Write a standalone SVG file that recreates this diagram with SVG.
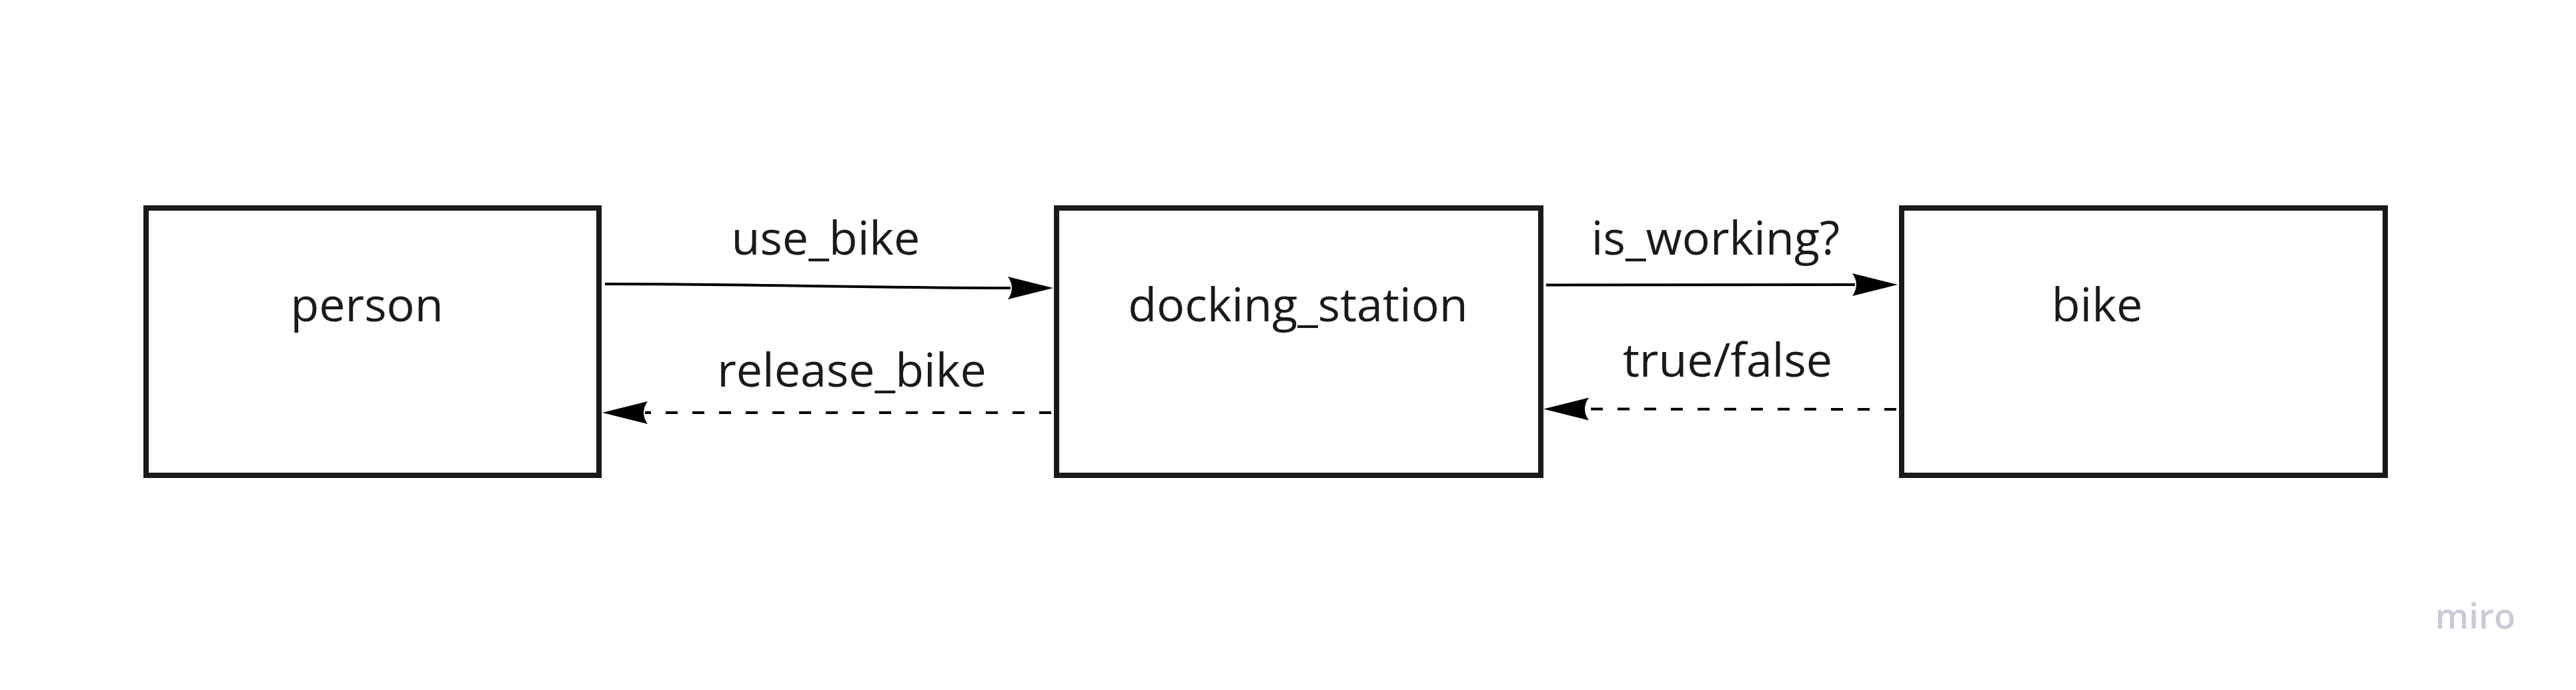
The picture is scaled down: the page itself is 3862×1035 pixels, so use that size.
<svg xmlns="http://www.w3.org/2000/svg" width="3862" height="1035" viewBox="0 0 3862 1035">
<style>
.box{fill:#ffffff;stroke:#1a1a1a;stroke-width:8}
.lbl{font-family:"Open Sans","Noto Sans",sans-serif;font-size:70px;fill:#1a1a1a}
.conn{fill:none;stroke:#000000;stroke-width:4}
.dash{stroke-dasharray:18 22}
</style>
<defs>
<marker id="ah" markerUnits="userSpaceOnUse" viewBox="-10 -20 80 40" markerWidth="80" markerHeight="40" refX="0" refY="0" orient="auto">
<path d="M64,0 L-4,-17 Q8,0 -4,17 Z" fill="#000000"/>
</marker>
</defs>
<rect width="3862" height="1035" fill="#ffffff"/>
<g id="person">
<rect class="box" x="219" y="312" width="679" height="401"/>
<text class="lbl" x="550" y="482" text-anchor="middle">person</text>
</g>
<g id="docking_station">
<rect class="box" x="1584" y="312" width="726" height="401"/>
<text class="lbl" x="1946" y="482" text-anchor="middle">docking_station</text>
</g>
<g id="bike">
<rect class="box" x="2851" y="312" width="725" height="401"/>
<text class="lbl" x="3144" y="482" text-anchor="middle">bike</text>
</g>
<g id="connectors">
<path class="conn" d="M907,426 C1150,426 1300,432 1515,432" marker-end="url(#ah)"/>
<text class="lbl" x="1238" y="382" text-anchor="middle">use_bike</text>
<path class="conn dash" d="M1576,619 L967,619" marker-end="url(#ah)"/>
<text class="lbl" x="1277" y="580" text-anchor="middle">release_bike</text>
<path class="conn" d="M2318,427.5 L2781,427" marker-end="url(#ah)"/>
<text class="lbl" x="2572" y="382" text-anchor="middle">is_working?</text>
<path class="conn dash" d="M2843,614 L2378,613.5" marker-end="url(#ah)"/>
<text class="lbl" x="2590" y="565" text-anchor="middle">true/false</text>
</g>
<text x="3711" y="943" text-anchor="middle" font-family="'Open Sans',sans-serif" font-weight="600" font-size="53" fill="#cacad8">miro</text>
</svg>
